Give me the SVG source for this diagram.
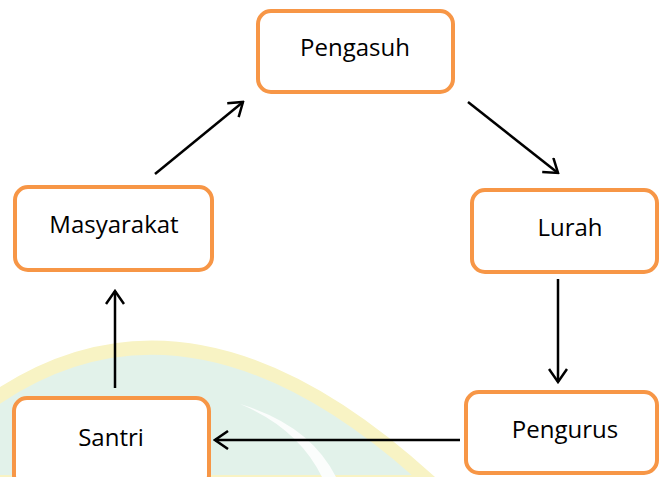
<svg xmlns="http://www.w3.org/2000/svg" width="659" height="477" viewBox="0 0 659 477">
<style>
.box{fill:#fff;stroke:#F79646;stroke-width:4}
.lbl{font-family:"Open Sans","Noto Sans",sans-serif;font-size:24px;fill:#000;text-anchor:middle}
.con{stroke:#000;stroke-width:2.5;fill:none;marker-end:url(#ah)}
</style>
<defs>
<marker id="ah" viewBox="0 0 16 20" refX="14" refY="10" markerWidth="16" markerHeight="20" markerUnits="userSpaceOnUse" orient="auto">
<path d="M1,1 L14,10 L1,19" fill="none" stroke="#000" stroke-width="2.5"/>
</marker>
</defs>
<g id="watermark">
<path d="M-10,402 Q190,262 430,482 L-10,482 Z" fill="#e2f2ea" stroke="#f8f3c4" stroke-width="14"/>
<path d="M240,404 Q310,425 336,477 L322,477 Q298,428 240,404 Z" fill="#fbfdfc"/>
</g>
<g id="connectors">
<line class="con" x1="155" y1="174" x2="243" y2="102"/>
<line class="con" x1="468" y1="102" x2="558" y2="173"/>
<line class="con" x1="558" y1="279" x2="558" y2="382"/>
<line class="con" x1="460" y1="440" x2="215" y2="440"/>
<line class="con" x1="115" y1="388" x2="115" y2="291"/>
</g>
<g id="pengasuh"><rect class="box" x="258" y="11" width="195" height="81" rx="13"/><text class="lbl" x="355" y="56">Pengasuh</text></g>
<g id="masyarakat"><rect class="box" x="15" y="187" width="197" height="83" rx="13"/><text class="lbl" x="114" y="233">Masyarakat</text></g>
<g id="lurah"><rect class="box" x="472" y="190" width="185" height="82" rx="13"/><text class="lbl" x="570" y="236">Lurah</text></g>
<g id="pengurus"><rect class="box" x="466" y="392" width="191" height="81" rx="13"/><text class="lbl" x="565" y="438">Pengurus</text></g>
<g id="santri"><rect class="box" x="14" y="398" width="195" height="90" rx="13"/><text class="lbl" x="111" y="446">Santri</text></g>
</svg>
